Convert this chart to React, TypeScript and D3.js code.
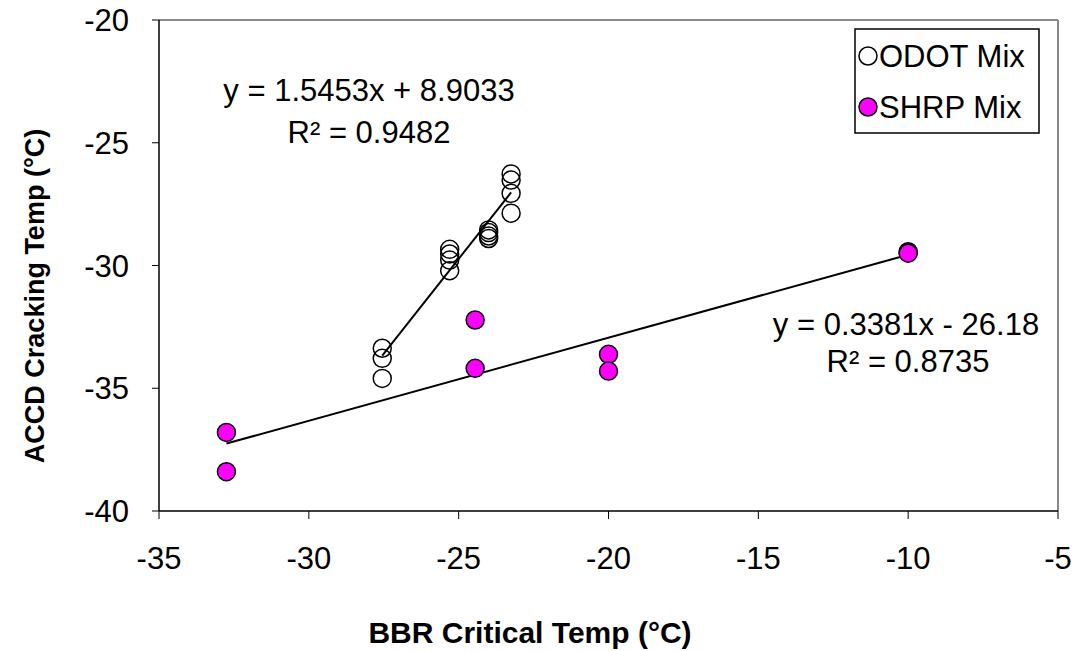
import React from "react";
import * as d3 from "d3";

const xTicks = [-35, -30, -25, -20, -15, -10, -5];
const yTicks = [-40, -35, -30, -25, -20];

const odotX = [-27.55, -27.55, -27.55, -25.3, -25.3, -25.3, -25.3, -24.0, -24.0, -24.0, -24.0, -23.25, -23.25, -23.25, -23.25];
const odotY = [-33.37, -33.78, -34.6, -29.34, -29.53, -29.78, -30.21, -28.55, -28.66, -28.8, -28.9, -26.27, -26.52, -27.06, -27.87];

const shrpX = [-32.75, -32.75, -24.45, -24.45, -20.0, -20.0, -10.0, -10.0];
const shrpY = [-36.8, -38.4, -32.22, -34.19, -33.62, -34.3, -29.44, -29.5];

const odotFit = { slope: 1.5453, intercept: 8.9033, x0: -27.55, x1: -23.25 };
const shrpFit = { slope: 0.3381, intercept: -26.18, x0: -32.75, x1: -10.0 };

const legendLabels = ["ODOT Mix", "SHRP Mix"];

export default function App() {
  const W = 1074, H = 651;
  const L = 159, R = 1058, T = 20, B = 511;
  const x = d3.scaleLinear().domain([-35, -5]).range([L, R]);
  const y = d3.scaleLinear().domain([-40, -20]).range([B, T]);
  const font = "Liberation Sans, Arial, sans-serif";
  const fitPath = (f: typeof odotFit) =>
    d3.line<number>().x((v) => x(v)).y((v) => y(f.slope * v + f.intercept))([f.x0, f.x1]) || "";
  const r = 9;
  const fs = 31;
  return (
    <svg width={W} height={H} style={{ position: "absolute", left: 0, top: 0, background: "#fff" }} fontFamily={font}>
      <rect x={0} y={0} width={W} height={H} fill="#fff" />
      {/* frame */}
      <line x1={L} y1={T} x2={R} y2={T} stroke="#888" strokeWidth={2} />
      <line x1={R} y1={T} x2={R} y2={B} stroke="#888" strokeWidth={2} />
      <line x1={L} y1={T} x2={L} y2={B} stroke="#000" strokeWidth={1.5} />
      <line x1={L} y1={B} x2={R} y2={B} stroke="#000" strokeWidth={1.5} />
      {xTicks.map((t) => (
        <g key={"x" + t}>
          <line x1={x(t)} x2={x(t)} y1={B} y2={B + 8} stroke="#000" strokeWidth={1} />
          <text x={x(t)} y={569} textAnchor="middle" fontSize={fs}>{t}</text>
        </g>
      ))}
      {yTicks.map((t) => (
        <g key={"y" + t}>
          <line x1={L - 7} x2={L} y1={y(t)} y2={y(t)} stroke="#000" strokeWidth={1} />
          <text x={129} y={y(t) + 11} textAnchor="end" fontSize={fs}>{t}</text>
        </g>
      ))}
      <text x={530} y={643} textAnchor="middle" fontSize={30} fontWeight="bold">BBR Critical Temp (°C)</text>
      <text transform={`translate(44,296) rotate(-90)`} textAnchor="middle" fontSize={27} fontWeight="bold">ACCD Cracking Temp (°C)</text>
      {/* trendlines */}
      <path d={fitPath(odotFit)} stroke="#000" strokeWidth={2} fill="none" />
      <path d={fitPath(shrpFit)} stroke="#000" strokeWidth={2} fill="none" />
      {/* points */}
      {odotX.map((v, i) => (
        <circle key={"o" + i} cx={x(v)} cy={y(odotY[i])} r={r} fill="none" stroke="#000" strokeWidth={1.5} />
      ))}
      {shrpX.map((v, i) => (
        <circle key={"s" + i} cx={x(v)} cy={y(shrpY[i])} r={r} fill="#ff00ff" stroke="#000" strokeWidth={1.5} />
      ))}
      {/* equations */}
      <text x={369} y={101} textAnchor="middle" fontSize={fs}>y = 1.5453x + 8.9033</text>
      <text x={369} y={143} textAnchor="middle" fontSize={fs}>R² = 0.9482</text>
      <text x={906} y={335} textAnchor="middle" fontSize={fs}>y = 0.3381x - 26.18</text>
      <text x={908} y={372} textAnchor="middle" fontSize={fs}>R² = 0.8735</text>
      {/* legend */}
      <rect x={855} y={29} width={184} height={104} fill="#fff" stroke="#000" strokeWidth={1.5} />
      <circle cx={868} cy={56} r={r} fill="#fff" stroke="#000" strokeWidth={1.5} />
      <text x={879} y={67} fontSize={fs}>{legendLabels[0]}</text>
      <circle cx={868} cy={107} r={r} fill="#ff00ff" stroke="#000" strokeWidth={1.5} />
      <text x={879} y={118} fontSize={fs}>{legendLabels[1]}</text>
    </svg>
  );
}
